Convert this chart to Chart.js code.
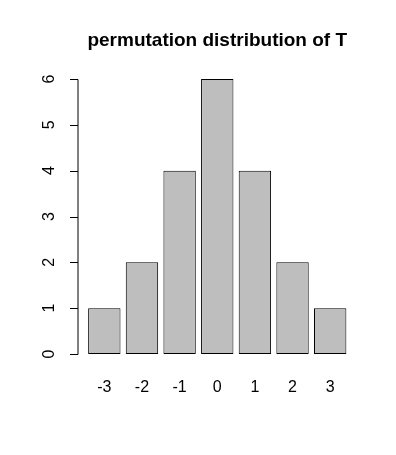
<!DOCTYPE html>
<html>
<head>
<meta charset="utf-8">
<script src="https://cdn.jsdelivr.net/npm/chart.js@4"></script>
<style>
  body { margin: 0; background: #fff; }
  canvas { display: block; }
</style>
</head>
<body>
<canvas id="chart" width="396" height="455"></canvas>
<script>
// data
const categories = ["-3", "-2", "-1", "0", "1", "2", "3"];
const counts = [1, 2, 4, 6, 4, 2, 1];
const yTicks = [0, 1, 2, 3, 4, 5, 6];

const fontFamily = "'Liberation Sans', Arial, sans-serif";

// R style y axis: line a bit left of the bars, rotated labels
const rAxis = {
  id: "rAxis",
  afterDraw(chart) {
    const ctx = chart.ctx;
    const y = chart.scales.y;
    const x0 = chart.chartArea.left - 7.5;
    ctx.save();
    ctx.strokeStyle = "#000";
    ctx.lineWidth = 1;
    ctx.beginPath();
    ctx.moveTo(x0, Math.round(y.getPixelForValue(yTicks[0])) + 0.5);
    ctx.lineTo(x0, Math.round(y.getPixelForValue(yTicks[yTicks.length - 1])) + 0.5);
    yTicks.forEach((t) => {
      const py = Math.round(y.getPixelForValue(t)) + 0.5;
      ctx.moveTo(x0, py);
      ctx.lineTo(x0 - 8, py);
    });
    ctx.stroke();
    ctx.fillStyle = "#000";
    ctx.font = "16px " + fontFamily;
    ctx.textAlign = "center";
    ctx.textBaseline = "middle";
    yTicks.forEach((t) => {
      const py = y.getPixelForValue(t);
      ctx.save();
      ctx.translate(x0 - 28, py);
      ctx.rotate(-Math.PI / 2);
      ctx.fillText(String(t), 0, 0);
      ctx.restore();
    });
    ctx.restore();
  },
};

new Chart(document.getElementById("chart"), {
  type: "bar",
  data: {
    labels: categories,
    datasets: [
      {
        data: counts,
        backgroundColor: "#bebebe",
        borderColor: "#000",
        borderWidth: 1,
        borderSkipped: false,
        barPercentage: 0.86,
        categoryPercentage: 1,
      },
    ],
  },
  options: {
    responsive: false,
    animation: false,
    layout: { padding: { left: 85.5, right: 47, top: 0, bottom: 33.8 } },
    plugins: {
      legend: { display: false },
      tooltip: { enabled: false },
      title: {
        display: true,
        text: "permutation distribution of T",
        color: "#000",
        font: { family: fontFamily, size: 19, weight: "bold", lineHeight: 1.2 },
        padding: { top: 29.3, bottom: 26.9 },
      },
    },
    scales: {
      x: {
        grid: { display: false, drawTicks: false },
        border: { display: false },
        ticks: {
          color: "#000",
          padding: 24,
          font: { family: fontFamily, size: 16 },
        },
      },
      y: {
        display: false,
        min: 0,
        max: 6,
      },
    },
  },
  plugins: [rAxis],
});
</script>
</body>
</html>
